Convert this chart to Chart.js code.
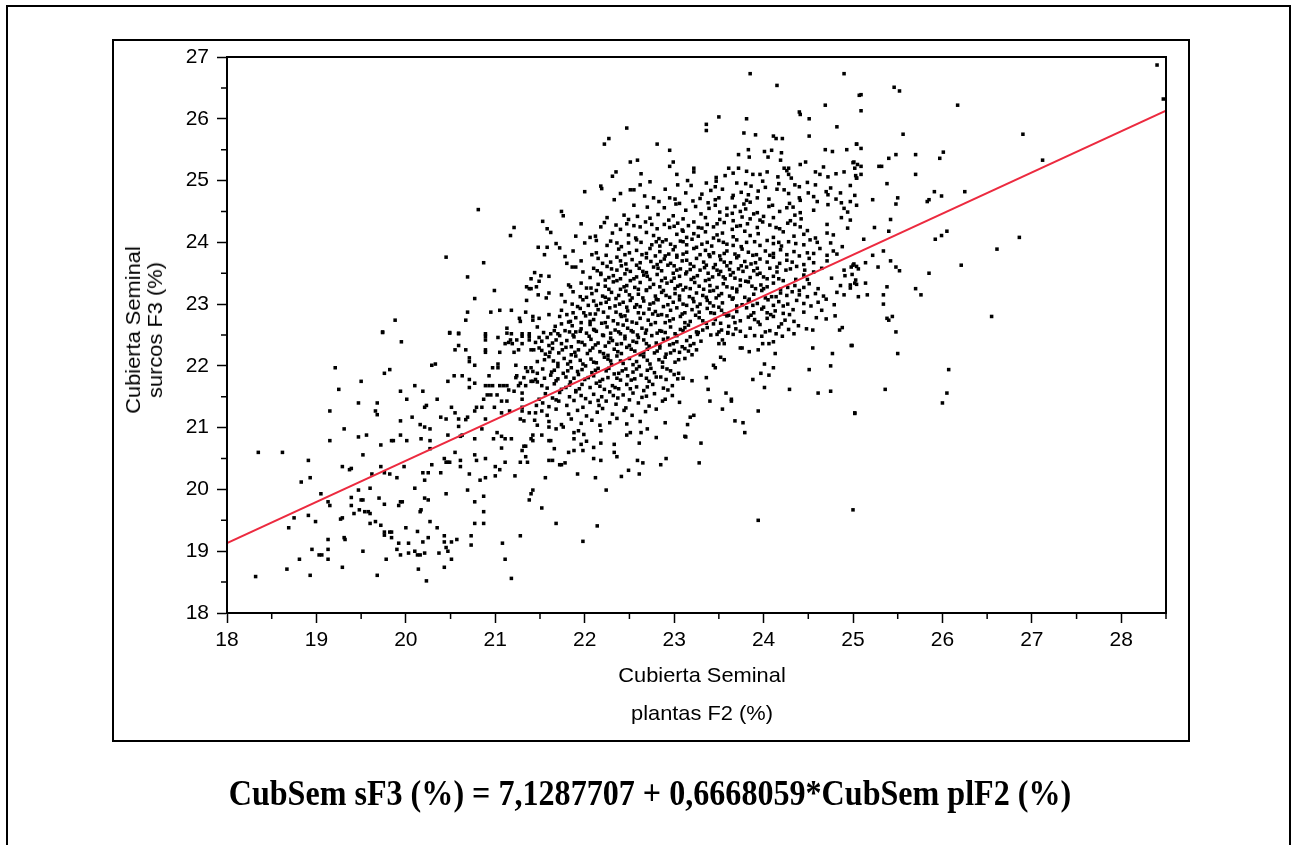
<!DOCTYPE html>
<html>
<head>
<meta charset="utf-8">
<script src="https://cdn.jsdelivr.net/npm/chart.js@4/dist/chart.umd.min.js"></script>
<style>
  body { margin: 0; background: #fff; }
  #wrap { position: relative; width: 1293px; height: 845px; overflow: hidden; background: #fff; }
  #grafico { position: absolute; left: 0; top: 0; }
  .caja { position: absolute; border: 2px solid #000; box-sizing: border-box; pointer-events: none; }
  .txt { position: absolute; font-family: Arial, "Liberation Sans", sans-serif; color: #000; white-space: nowrap; }
</style>
</head>
<body>
<div id="wrap">
  <div class="caja" style="left:6px; top:5px; width:1285px; height:860px;"></div>
  <div class="caja" style="left:112px; top:39px; width:1078px; height:703px;"></div>
  <canvas id="grafico" width="1293" height="845"></canvas>
  <div class="txt" style="left:144px; top:330px; font-size:21px; line-height:22px; text-align:center; transform: translate(-50%,-50%) rotate(-90deg) scaleX(1.04);">Cubierta Seminal<br>surcos F3 (%)</div>
  <div class="txt" style="left:702px; top:663px; font-size:21px; transform: translateX(-50%) scaleX(1.04);">Cubierta Seminal</div>
  <div class="txt" style="left:702px; top:701px; font-size:21px; transform: translateX(-50%) scaleX(1.04);">plantas F2 (%)</div>
  <div class="txt" style="left:650px; top:776px; font-family:'Liberation Serif','Times New Roman',serif; font-weight:bold; font-size:35px; line-height:35px; transform: translateX(-50%) scaleX(0.917);">CubSem sF3 (%) = 7,1287707 + 0,6668059*CubSem plF2 (%)</div>
</div>
<script>
// Cubierta Seminal: plantas F2 (x) vs surcos F3 (y)
const puntosIzq = [
  [18.35,20.6],[18.62,20.6],[18.32,18.59],[18.67,18.71],[18.93,18.61],[18.81,18.87],[18.95,19.03],[19.03,18.94],[19.06,18.94],[19.13,18.87],
  [19.13,19.03],[19.13,19.19],[18.69,19.38],[18.75,19.54],[18.91,19.58],[18.99,19.48],[18.83,20.12],[18.93,20.19],[18.91,20.47],[19.05,19.93],
  [19.13,19.8],[19.15,19.74],[19.29,18.74],[19.31,19.22],[19.32,19.19],[19.27,19.52],[19.29,19.54],[19.21,21.97],[19.25,21.62],[19.15,21.27],
  [19.15,20.79],[19.31,20.98],[19.29,20.37],[19.37,20.32],[19.39,20.34],[19.47,21.4],[19.47,20.85],[19.56,20.88],[19.5,21.75],[19.52,20.56],
  [19.39,19.87],[19.39,19.74],[19.42,19.61],[19.47,19.99],[19.48,19.67],[19.5,19.83],[19.52,19.83],[19.54,19.64],[19.58,19.64],[19.6,19.61],
  [19.6,20.02],[19.62,20.25],[19.6,19.45],[19.66,19.48],[19.52,19.0],[19.68,18.61],[19.68,21.4],[19.66,21.27],[19.68,21.21],[19.72,20.72],
  [19.72,20.37],[19.76,21.88],[19.82,21.94],[19.74,22.54],[19.76,20.27],[19.82,20.25],[19.7,19.86],[19.76,19.76],[19.72,19.42],[19.76,19.31],
  [19.76,19.26],[19.82,19.31],[19.84,19.31],[19.84,19.22],[19.78,18.87],[19.84,20.79],[19.86,20.79],[19.9,20.19],[19.92,19.74],[19.94,19.8],
  [19.96,19.8],[19.92,19.13],[19.9,19.03],[19.94,18.94],[19.94,21.11],[19.94,20.88],[19.94,21.59],[19.95,22.39],[20.01,21.46],[20.01,20.79],
  [19.98,20.37],[20.0,19.38],[20.03,19.13],[20.03,18.97],[20.07,21.17],[20.1,21.68],[20.1,20.02],[20.1,19.0],[20.13,18.94],[20.16,18.94],
  [20.13,19.32],[20.14,18.71],[20.16,21.05],[20.21,21.01],[20.27,20.98],[20.17,20.82],[20.19,21.59],[20.21,21.33],[20.23,21.36],[20.19,20.27],
  [20.25,20.27],[20.21,20.15],[20.16,19.64],[20.17,19.67],[20.21,19.86],[20.25,19.83],[20.19,19.15],[20.25,19.22],[20.21,18.97],[20.23,18.52],
  [20.27,20.79],[20.27,20.66],[20.29,20.4],[20.27,19.48],[20.35,21.46],[20.35,19.38],[20.39,20.27],[20.39,21.17],[20.45,21.14],[20.43,20.5],
  [20.45,20.44],[20.47,20.44],[20.49,20.44],[20.47,21.75],[20.45,19.93],[20.43,19.25],[20.43,19.15],[20.45,19.06],[20.47,19.0],[20.37,18.97],
  [20.43,18.74],[20.49,22.54],[20.59,22.52],[20.51,21.33],[20.47,20.88],[20.55,21.24],[20.55,20.6],[20.59,21.02],[20.59,21.14],[20.61,20.47],
  [20.61,20.37],[20.51,19.15],[20.57,19.19],[20.51,18.87],[20.61,20.86],[20.63,20.88],[20.67,21.13],[20.69,21.17],[20.71,20.25],[20.69,19.99],
  [20.73,19.25],[20.73,19.1],[20.77,20.56],[20.79,20.47],[20.77,19.8],[20.77,19.45],[20.87,19.89],[20.87,19.64],[20.87,19.45],[20.89,20.19],
  [20.83,20.15],[20.89,20.5],[20.77,20.82],[20.77,21.27],[20.79,21.33],[20.85,20.98],[20.89,21.14],[21.0,20.37],[21.0,20.22],[21.05,20.32],
  [21.11,20.44],[21.02,20.92],[20.98,20.82],[21.07,20.86],[21.11,20.82],[21.18,20.82],[21.07,20.67],[21.22,20.22],[21.28,20.44],[21.36,20.44],
  [21.3,20.63],[21.32,20.7],[21.34,20.7],[21.34,20.53],[21.38,19.83],[21.4,19.93],[21.42,19.99],[21.28,19.25],[21.08,19.13],[21.11,18.87],
  [21.18,18.56],[21.28,21.14],[21.32,21.11],[21.4,20.82],[21.42,20.88],[21.42,20.79],[21.56,20.19],
  [20.89,22.48],[20.89,22.42],[21.03,22.46],[21.13,22.53],[21.3,22.48],[21.38,22.48],[21.38,22.42],[21.45,22.38],[21.49,22.46],
  [21.11,22.36],[21.15,22.38],[21.17,22.42],[21.19,22.36],[21.24,22.42],[21.3,22.36],[21.43,22.26],[21.49,22.29],
  [20.55,22.26],[20.59,22.33],[20.67,22.26],[20.89,22.26],[20.89,22.22],[21.05,22.22],[21.21,22.22],[21.26,22.26],[21.4,22.26],
  [20.71,22.13],[20.71,22.07],[20.77,22.01],[21.03,22.03],[21.03,21.97],[20.97,21.97],[21.23,22.01],[21.34,21.97],[21.36,21.91],[21.4,21.97],
  [21.42,21.91],[21.47,22.07],[21.47,21.74],[21.47,21.88],[20.29,22.01],[20.33,22.03],[20.54,21.84],[20.63,21.84],[20.71,21.78],
  [20.77,21.72],[20.93,21.84],[21.23,21.81],[21.24,21.84],[21.32,21.81],[21.4,21.75],[21.45,21.78],[20.71,21.65],[20.89,21.68],[20.93,21.68],
  [20.97,21.68],[21.05,21.68],[21.09,21.68],[21.13,21.68],[21.15,21.61],[21.21,21.59],[21.26,21.68],[21.28,21.72],[21.3,21.56],[21.34,21.68],
  [21.42,21.75],[20.91,21.53],[20.95,21.53],[21.02,21.53],[20.87,21.46],[21.07,21.43],[21.13,21.43],[21.3,21.46],
  [21.49,21.46],[20.85,21.33],[20.99,21.33],[21.07,21.24],[21.16,21.27],[21.3,21.33],[21.3,21.27],[21.38,21.24],[21.45,21.24],
  [21.46,21.36],[21.44,21.12],[21.47,21.04],
  [20.81,24.53],[21.21,24.24],[21.17,24.11],[21.62,24.16],[21.48,23.92],[20.45,23.76],
  [20.87,23.67],[20.69,23.44],[21.44,23.51],[21.4,23.41],[21.49,23.37],[21.35,23.28],[21.38,23.25],[21.4,23.25],[21.46,23.28],
  [21.48,23.15],[21.35,23.06],[20.99,23.22],[20.77,23.09],[20.69,22.87],[20.67,22.74],[20.95,22.87],[21.05,22.9],[21.18,22.9],
  [21.34,22.87],[21.27,22.77],[21.28,22.72],[21.42,22.8],[21.42,22.74],[21.47,22.63],[21.13,22.61],[19.88,22.74],
  [19.74,22.55],[20.49,22.53],[20.59,22.53],[20.89,22.52],[21.18,22.52],[21.3,22.52],[21.38,22.52]
];

const puntosNucleo = [
  [23.85,26.73],[24.9,26.73],[24.15,26.54],[25.07,26.38],[24.69,26.22],[24.4,26.11],[24.41,26.07],[24.51,26.0],[23.5,26.03],[23.81,26.0],
  [23.36,25.91],[23.36,25.81],[22.47,25.85],[24.82,25.87],[23.78,25.77],[23.91,25.74],
  [22.22,25.59],[22.27,25.68],[22.81,25.59],[24.11,25.72],[24.14,25.68],[24.21,25.68],[24.51,25.72],[25.04,25.59],
  [22.95,25.49],[23.83,25.5],[24.01,25.47],[24.09,25.49],[24.2,25.45],[24.69,25.5],[24.77,25.47],[24.93,25.5],[23.72,25.42],[23.84,25.38],[24.05,25.38],
  [22.51,25.3],[22.59,25.33],[22.99,25.3],[24.19,25.33],[24.47,25.3],[24.41,25.26],[24.67,25.22],[25.01,25.3],[22.95,25.23],[23.22,25.2],
  [23.61,25.2],[23.72,25.2],[24.23,25.2],[24.28,25.2],[25.05,25.26],
  [22.31,25.07],[22.35,25.14],[22.63,25.11],[23.03,25.1],[23.22,25.14],[23.57,25.08],[23.47,25.05],[23.66,25.12],[23.81,25.15],[23.88,25.1],
  [23.96,25.1],[24.04,25.14],[24.16,25.06],[24.26,25.16],[24.28,25.1],[24.31,25.04],[24.63,25.1],[24.58,25.14],[24.72,25.06],[24.81,25.11],
  [24.9,25.14],[25.03,25.08],[25.04,25.04],[23.47,24.99],[23.15,25.0],
  [22.73,24.98],[23.04,24.93],[23.36,24.96],[23.46,24.9],[22.18,24.91],[22.19,24.87],[23.8,24.95],[23.86,24.91],[23.99,24.99],[24.17,24.95],
  [24.35,24.93],[24.4,24.9],[24.49,24.97],[24.58,24.93],[24.75,24.88],[24.97,24.92],
  [22.0,24.82],[22.51,24.85],[22.55,24.85],[22.67,24.75],[22.77,24.72],[23.13,24.8],[23.31,24.78],[23.41,24.84],[23.66,24.76],[23.75,24.81],
  [23.83,24.77],[23.94,24.83],[24.15,24.86],[24.28,24.79],[24.5,24.8],[24.56,24.74],[24.7,24.82],[24.72,24.77],[24.86,24.8],[25.02,24.76],
  [22.33,24.69],[22.4,24.79],[22.83,24.66],[23.01,24.7],[23.06,24.63],[23.21,24.67],[23.29,24.71],[23.38,24.64],[23.46,24.69],[23.65,24.72],
  [23.78,24.62],[23.81,24.68],[23.85,24.65],[24.06,24.7],[24.29,24.63],[24.41,24.68],[24.6,24.66],[24.72,24.61],[24.81,24.7],[24.87,24.64],
  [21.74,24.5],[22.89,24.56],[23.13,24.52],[23.46,24.6],[23.51,24.49],[23.59,24.55],[23.65,24.47],[23.68,24.58],[23.74,24.5],[23.8,24.54],
  [23.93,24.48],[24.06,24.58],[24.18,24.5],[24.26,24.56],[24.41,24.48],[24.56,24.52],[24.9,24.55],[24.94,24.49],
  [21.76,24.43],[21.53,24.34],[22.25,24.4],[22.44,24.44],[22.49,24.37],[22.59,24.42],[22.73,24.39],[22.82,24.45],[22.94,24.36],[22.99,24.43],
  [23.1,24.38],[23.3,24.46],[23.35,24.4],[23.51,24.37],[23.59,24.44],[23.66,24.35],[23.76,24.41],[23.85,24.38],[23.89,24.46],[23.96,24.36],
  [24.0,24.42],[24.11,24.4],[24.3,24.35],[24.35,24.44],[24.42,24.38],[24.87,24.4],[24.97,24.36],
  [21.58,24.22],[21.96,24.3],[22.18,24.25],[22.22,24.32],[22.35,24.28],[22.4,24.21],[22.47,24.3],[22.62,24.25],[22.68,24.33],[22.81,24.22],
  [22.89,24.29],[22.95,24.24],[23.04,24.31],[23.09,24.2],[23.16,24.27],[23.22,24.33],[23.31,24.23],[23.37,24.29],[23.44,24.25],[23.56,24.32],
  [23.65,24.21],[23.74,24.27],[23.82,24.3],[23.93,24.24],[24.07,24.28],[24.18,24.22],[24.27,24.31],[24.41,24.25],[24.71,24.29],[24.94,24.23],
  [21.9,24.1],[22.06,24.08],[22.12,24.1],[22.31,24.15],[22.49,24.12],[22.57,24.07],[22.69,24.16],[22.77,24.11],[22.83,24.06],[23.03,24.13],
  [23.1,24.18],[23.14,24.08],[23.22,24.14],[23.27,24.1],[23.35,24.17],[23.44,24.07],[23.48,24.12],[23.54,24.15],[23.66,24.09],[23.79,24.18],
  [23.85,24.11],[23.94,24.14],[24.11,24.08],[24.22,24.17],[24.34,24.1],[24.45,24.13],[24.49,24.19],[24.58,24.07],[24.71,24.15],[24.78,24.12],
  [21.58,23.92],[21.68,23.98],[21.72,23.91],[22.0,23.99],[22.13,24.03],[22.25,23.95],[22.29,24.02],[22.41,23.93],[22.49,23.99],[22.58,24.04],
  [22.75,23.96],[22.8,24.01],[22.84,23.94],[22.91,24.04],[22.96,23.97],[23.01,23.93],[23.07,24.02],[23.14,23.96],[23.2,24.05],[23.25,23.92],
  [23.37,24.0],[23.42,23.94],[23.5,24.03],[23.59,23.97],[23.7,24.04],[23.75,23.93],[23.81,24.0],[23.96,23.95],[24.04,24.03],[24.11,23.98],
  [24.2,23.94],[24.28,24.01],[24.45,23.96],[24.52,24.04],[24.75,23.99],[24.88,23.93],
  [21.55,23.8],[21.78,23.77],[21.87,23.86],[22.13,23.83],[22.38,23.89],[22.45,23.8],[22.58,23.87],[22.69,23.82],[22.73,23.9],[22.79,23.78],
  [22.84,23.85],[22.94,23.81],[22.99,23.88],[23.03,23.79],[23.14,23.84],[23.22,23.9],[23.29,23.8],[23.35,23.87],[23.44,23.83],[23.51,23.78],
  [23.59,23.86],[23.68,23.81],[23.76,23.89],[23.83,23.84],[23.88,23.79],[24.02,23.86],[24.11,23.82],[24.19,23.88],[24.26,23.8],[24.34,23.85],
  [24.49,23.83],[24.63,23.9],[24.71,23.79],[24.78,23.86],[24.82,23.81],
  [21.8,23.66],[21.96,23.7],[22.15,23.74],[22.29,23.68],[22.36,23.76],[22.46,23.65],[22.53,23.72],[22.62,23.67],[22.69,23.75],[22.74,23.69],
  [22.81,23.64],[22.89,23.73],[22.96,23.66],[23.03,23.76],[23.09,23.7],[23.18,23.65],[23.25,23.74],[23.33,23.68],[23.4,23.77],[23.46,23.64],
  [23.52,23.72],[23.63,23.67],[23.7,23.75],[23.79,23.69],[23.86,23.65],[23.96,23.73],[24.04,23.68],[24.11,23.76],[24.18,23.66],[24.26,23.71],
  [24.51,23.74],[24.56,23.67],[24.71,23.7],[25.01,23.65],
  [21.86,23.6],[21.9,23.6],[21.98,23.52],[22.1,23.58],[22.18,23.5],[22.25,23.61],[22.36,23.55],[22.41,23.62],[22.51,23.53],[22.61,23.58],
  [22.69,23.51],[22.77,23.6],[22.86,23.54],[22.93,23.63],[22.99,23.5],[23.07,23.57],[23.14,23.52],[23.22,23.61],[23.29,23.55],[23.38,23.5],
  [23.44,23.59],[23.52,23.53],[23.59,23.62],[23.66,23.51],[23.72,23.57],[23.81,23.6],[23.89,23.54],[23.96,23.5],[24.07,23.58],[24.25,23.55],
  [24.37,23.61],[24.56,23.52],[24.65,23.58],[24.9,23.55],[24.98,23.6],
  [21.51,23.46],[21.6,23.45],[22.06,23.43],[22.18,23.48],[22.23,23.39],[22.32,23.46],[22.4,23.41],[22.45,23.49],[22.51,23.38],[22.58,23.44],
  [22.66,23.47],[22.73,23.4],[22.81,23.48],[22.9,23.42],[22.97,23.37],[23.06,23.45],[23.13,23.49],[23.19,23.4],[23.26,23.46],[23.35,23.38],
  [23.43,23.44],[23.5,23.48],[23.57,23.41],[23.63,23.47],[23.74,23.39],[23.85,23.43],[23.93,23.48],[24.04,23.41],[24.11,23.45],[24.22,23.38],
  [24.45,23.47],[24.49,23.4],[24.76,23.42],[24.91,23.46],[25.03,23.39],
  [21.82,23.31],[21.84,23.28],[21.96,23.34],[22.02,23.26],[22.15,23.32],[22.23,23.29],[22.32,23.36],[22.4,23.24],[22.47,23.3],[22.56,23.27],
  [22.62,23.35],[22.69,23.23],[22.77,23.32],[22.84,23.28],[22.92,23.34],[23.01,23.25],[23.07,23.31],[23.13,23.27],[23.23,23.35],[23.33,23.24],
  [23.4,23.3],[23.48,23.27],[23.55,23.33],[23.65,23.26],[23.74,23.3],[23.83,23.36],[23.91,23.25],[23.97,23.31],[24.04,23.28],[24.11,23.34],
  [24.19,23.24],[24.35,23.3],[24.45,23.27],[24.51,23.33],[24.61,23.25],[24.86,23.3],[24.97,23.26],[25.04,23.32],
  [21.57,23.1],[21.6,23.18],[21.74,23.15],[21.87,23.2],[21.95,23.12],[22.08,23.17],[22.13,23.22],[22.23,23.11],[22.3,23.19],[22.38,23.14],
  [22.46,23.21],[22.53,23.1],[22.6,23.16],[22.69,23.22],[22.79,23.13],[22.86,23.19],[22.95,23.11],[23.01,23.17],[23.1,23.23],[23.17,23.12],
  [23.25,23.18],[23.32,23.14],[23.4,23.21],[23.47,23.1],[23.53,23.17],[23.62,23.13],[23.7,23.2],[23.79,23.11],[23.89,23.16],[23.98,23.22],
  [24.09,23.12],[24.19,23.18],[24.26,23.14],[24.32,23.2],[24.49,23.12],[24.58,23.17],[24.67,23.13],[24.82,23.19],[24.9,23.15],
  [21.78,23.04],[21.86,23.0],[21.98,23.07],[22.04,22.98],[22.1,23.05],[22.18,23.01],[22.27,23.08],[22.34,22.97],[22.43,23.03],[22.51,23.06],
  [22.58,22.99],[22.66,23.05],[22.73,23.0],[22.8,23.08],[22.88,22.96],[22.99,23.03],[23.06,23.07],[23.14,22.98],[23.22,23.04],[23.29,23.0],
  [23.37,23.06],[23.44,22.97],[23.54,23.02],[23.65,23.08],[23.76,22.99],[23.83,23.05],[23.93,23.01],[24.05,23.07],[24.11,22.98],[24.17,23.04],
  [24.27,23.0],[24.37,23.06],[24.53,22.97],[24.61,23.03],[24.7,23.08],[24.79,22.99],
  [21.74,22.9],[21.87,22.86],[21.95,22.93],[22.06,22.84],[22.15,22.91],[22.21,22.87],[22.28,22.94],[22.4,22.83],[22.48,22.89],[22.56,22.95],
  [22.66,22.85],[22.72,22.92],[22.79,22.88],[22.86,22.83],[22.96,22.9],[23.03,22.94],[23.09,22.84],[23.2,22.91],[23.28,22.87],[23.37,22.93],
  [23.45,22.85],[23.53,22.9],[23.61,22.82],[23.7,22.88],[23.81,22.94],[23.89,22.86],[23.98,22.92],[24.08,22.83],[24.13,22.89],[24.22,22.85],
  [24.33,22.91],[24.45,22.87],[24.65,22.9],
  [21.49,22.77],[21.6,22.83],[21.72,22.8],[21.84,22.72],[21.9,22.78],[21.96,22.7],[22.01,22.81],[22.1,22.75],[22.19,22.69],[22.26,22.79],
  [22.32,22.73],[22.41,22.8],[22.53,22.71],[22.62,22.77],[22.71,22.74],[22.82,22.82],[22.9,22.7],[22.99,22.76],[23.07,22.8],[23.18,22.72],
  [23.28,22.78],[23.36,22.69],[23.46,22.75],[23.59,22.81],[23.74,22.73],[23.83,22.79],[23.94,22.71],[24.04,22.77],[24.11,22.8],[24.24,22.74],
  [24.34,22.72],[24.59,22.78],[24.7,22.76],[24.8,22.81],
  [21.67,22.64],[21.74,22.68],[21.78,22.57],[21.86,22.65],[21.96,22.6],[22.06,22.67],[22.13,22.56],[22.25,22.63],[22.34,22.58],[22.43,22.66],
  [22.54,22.55],[22.64,22.61],[22.74,22.67],[22.84,22.57],[22.96,22.63],[23.07,22.59],[23.16,22.66],[23.25,22.55],[23.37,22.62],[23.44,22.68],
  [23.53,22.58],[23.61,22.64],[23.74,22.56],[23.85,22.61],[23.96,22.67],[24.07,22.57],[24.17,22.63],[24.28,22.59],[24.39,22.65],[24.48,22.6],
  [24.88,22.62],
  [21.7,22.52],[21.87,22.5],[22.02,22.53],[22.21,22.49],[22.4,22.52],[22.59,22.5],[22.81,22.53],[23.03,22.49],[23.26,22.51],[23.41,22.5],
  [23.6,22.53],[23.9,22.49],[24.14,22.52]
];

const puntosCentroBajo = [
  [21.54,22.54],[21.58,22.46],[21.66,22.57],[21.72,22.49],[21.83,22.55],[21.88,22.47],[21.95,22.56],[22.05,22.48],[22.11,22.58],[22.2,22.5],
  [22.29,22.45],[22.38,22.55],[22.45,22.48],[22.52,22.57],[22.6,22.46],[22.68,22.53],[22.75,22.49],[22.86,22.56],[22.93,22.45],[23.01,22.52],
  [23.1,22.57],[23.18,22.47],[23.27,22.54],[23.48,22.51],[23.6,22.54],[23.66,22.51],[23.8,22.48],[23.98,22.48],[24.21,22.48],[24.55,22.58],[24.85,22.58],
  [21.52,22.4],[21.6,22.33],[21.68,22.42],[21.74,22.36],[21.85,22.31],[21.93,22.39],[22.0,22.34],[22.07,22.43],[22.15,22.37],[22.23,22.32],
  [22.31,22.41],[22.36,22.35],[22.45,22.44],[22.5,22.33],[22.58,22.38],[22.66,22.42],[22.72,22.32],[22.8,22.37],[22.88,22.43],[22.95,22.34],
  [23.03,22.39],[23.09,22.31],[23.14,22.41],[23.22,22.36],[23.5,22.36],[23.54,22.42],[23.56,22.36],[23.74,22.29],[23.76,22.29],[23.99,22.36],
  [24.06,22.36],[24.11,22.39],[24.98,22.33],
  [21.52,22.25],[21.56,22.19],[21.64,22.28],[21.71,22.21],[21.79,22.3],[21.85,22.18],[21.93,22.26],[22.03,22.2],[22.09,22.29],[22.17,22.23],
  [22.26,22.17],[22.33,22.27],[22.41,22.2],[22.47,22.3],[22.56,22.24],[22.62,22.18],[22.7,22.27],[22.78,22.21],[22.84,22.29],[22.91,22.19],
  [23.0,22.25],[23.06,22.22],[23.12,22.28],[23.2,22.18],[23.25,22.26],[23.84,22.23],[23.94,22.26],[24.13,22.2],[24.55,22.29],[24.77,22.2],
  [21.55,22.1],[21.6,22.15],[21.7,22.04],[21.77,22.12],[21.84,22.07],[21.9,22.16],[21.98,22.03],[22.07,22.11],[22.13,22.05],[22.22,22.14],
  [22.29,22.08],[22.36,22.16],[22.43,22.04],[22.5,22.12],[22.58,22.07],[22.66,22.15],[22.73,22.03],[22.83,22.1],[22.9,22.14],[23.01,22.06],
  [23.12,22.12],[23.44,22.01],[23.52,22.14],[23.56,22.1],[24.01,22.03],[24.11,21.97],[24.51,21.94],[24.75,22.0],
  [21.53,21.95],[21.63,21.9],[21.7,21.99],[21.76,21.88],[21.85,21.97],[21.92,21.91],[22.01,22.0],[22.08,21.89],[22.15,21.96],[22.24,21.92],
  [22.3,22.02],[22.38,21.88],[22.46,21.95],[22.54,21.9],[22.61,21.99],[22.7,21.93],[22.78,21.89],[22.87,21.98],[22.96,21.92],[23.05,21.88],
  [23.46,21.97],[23.97,21.88],[24.06,21.85],
  [21.55,21.8],[21.62,21.85],[21.68,21.76],[21.79,21.82],[21.84,21.74],[21.93,21.86],[22.0,21.78],[22.1,21.84],[22.17,21.75],[22.26,21.81],
  [22.33,21.87],[22.4,21.77],[22.48,21.84],[22.56,21.79],[22.63,21.85],[22.72,21.75],[22.8,21.82],[22.91,21.78],[23.0,21.86],[23.1,21.8],
  [23.2,21.76],[23.36,21.81],[23.88,21.78],
  [21.52,21.68],[21.58,21.64],[21.66,21.71],[21.74,21.62],[21.83,21.69],[21.9,21.6],[21.97,21.7],[22.06,21.65],[22.13,21.72],[22.22,21.62],
  [22.31,21.68],[22.38,21.63],[22.47,21.7],[22.58,21.66],[22.66,21.6],[22.76,21.7],[22.88,21.64],[22.98,21.68],[23.38,21.62],[24.01,21.65],
  [21.56,21.55],[21.64,21.48],[21.72,21.57],[21.83,21.5],[21.9,21.58],[22.01,21.47],[22.1,21.54],[22.19,21.5],[22.28,21.58],[22.37,21.48],
  [22.43,21.53],[22.54,21.56],[22.64,21.49],[22.78,21.55],[22.98,21.52],[23.58,21.56],[24.29,21.62],[24.61,21.56],[24.75,21.59],
  [21.53,21.4],[21.6,21.34],[21.71,21.43],[21.8,21.36],[21.88,21.44],[21.98,21.33],[22.06,21.41],[22.16,21.36],[22.24,21.43],[22.35,21.38],
  [22.46,21.32],[22.6,21.4],[22.72,21.35],[22.87,21.43],[23.06,21.41],[23.4,21.43],[23.64,21.43],[23.64,21.46],
  [21.52,21.27],[21.58,21.2],[21.68,21.3],[21.82,21.22],[21.92,21.28],[22.02,21.19],[22.14,21.25],[22.2,21.31],[22.31,21.22],[22.44,21.28],
  [22.53,21.2],[22.68,21.26],[22.8,21.3],[23.18,21.17],[23.22,21.2],[23.54,21.3],[23.94,21.27],[25.02,21.24],
  [21.6,21.1],[21.74,21.05],[21.85,21.14],[21.96,21.07],[22.08,21.12],[22.17,21.04],[22.28,21.08],[22.36,21.15],[22.47,21.06],[22.62,21.1],
  [22.9,21.08],[23.15,21.05],[23.68,21.11],[23.77,21.08],
  [21.6,21.01],[21.68,20.98],[21.76,21.01],[21.88,20.92],[21.93,20.95],[21.99,20.89],[22.18,20.95],[22.47,20.88],[22.51,20.92],[22.63,20.92],
  [22.7,20.98],[23.13,20.85],[23.79,20.92],
  [21.52,20.88],[21.6,20.79],[21.62,20.79],[21.88,20.82],[21.96,20.73],[22.02,20.78],[22.18,20.75],[22.33,20.73],[22.61,20.75],[22.8,20.84],[23.3,20.75],[23.12,20.86],
  [21.66,20.66],[21.82,20.6],[21.88,20.63],[21.98,20.63],[22.33,20.6],[22.36,20.53],[22.1,20.68],
  [21.6,20.47],[21.64,20.47],[21.72,20.4],[21.74,20.4],[21.78,20.43],[22.1,20.5],[22.18,20.47],[22.59,20.47],[22.65,20.43],[22.85,20.4],
  [22.91,20.5],[23.28,20.43],
  [21.92,20.25],[22.12,20.19],[22.41,20.21],[22.49,20.31],[22.61,20.25],[22.24,19.99],[21.52,19.7],[21.68,19.45],[21.98,19.16],[22.14,19.41],
  [23.94,19.5],[25.0,19.67]
];

// puntos del nucleo denso que quedan entre las filas anteriores
const puntosRelleno = [
  [22.62,24.93],[22.9,24.86],[23.19,24.92],[23.54,24.86],[23.7,24.96],[24.02,24.89],[24.23,24.85],[24.4,24.72],[23.5,24.72],[23.93,24.72],[22.95,24.72],
  [22.55,24.6],[22.7,24.57],[23.02,24.62],[23.24,24.58],[23.39,24.55],[24.1,24.6],[24.33,24.57],
  [22.55,24.27],[22.75,24.29],[23.0,24.26],[23.27,24.24],[23.48,24.3],[23.7,24.26],[23.99,24.33],[24.14,24.24],[24.35,24.29],
  [22.36,23.99],[22.63,24.0],[22.87,24.01],[23.1,24.01],[23.31,23.97],[23.55,24.0],[23.66,23.95],[23.9,24.01],[24.17,24.0],[24.36,23.98],[24.6,24.0],
  [22.08,23.8],[22.24,23.79],[22.5,23.83],[22.64,23.8],[22.9,23.78],[23.1,23.81],[23.39,23.8],[23.56,23.82],[23.72,23.78],[23.92,23.8],[24.07,23.79],[24.4,23.78],[24.56,23.82],
  [22.2,23.66],[22.4,23.7],[22.58,23.63],[22.85,23.69],[23.0,23.62],[23.14,23.71],[23.36,23.63],[23.56,23.68],[23.75,23.62],[23.91,23.67],[24.15,23.6],[24.32,23.68],[24.45,23.64],
  [22.14,23.54],[22.3,23.57],[22.47,23.56],[22.65,23.53],[22.82,23.58],[23.03,23.55],[23.18,23.56],[23.34,23.59],[23.48,23.55],[23.62,23.56],[23.77,23.53],[23.93,23.58],[24.15,23.52],[24.3,23.57],[24.46,23.55],
  [22.27,23.43],[22.36,23.38],[22.55,23.41],[22.7,23.45],[22.86,23.38],[23.0,23.42],[23.22,23.43],[23.39,23.4],[23.55,23.44],[23.68,23.42],[23.8,23.37],[24.0,23.44],[24.17,23.41],[24.36,23.4],
  [22.07,23.26],[22.27,23.24],[22.44,23.28],[22.6,23.24],[22.73,23.27],[22.88,23.22],[23.04,23.29],[23.18,23.25],[23.28,23.29],[23.44,23.22],[23.59,23.28],[23.7,23.24],[23.87,23.29],[24.0,23.25],[24.27,23.27],[24.4,23.22],
  [22.02,23.11],[22.2,23.13],[22.35,23.09],[22.5,23.15],[22.65,23.1],[22.82,23.07],[22.91,23.14],[23.06,23.13],[23.21,23.09],[23.36,23.11],[23.5,23.14],[23.66,23.1],[23.84,23.08],[24.02,23.1],[24.14,23.12],[24.4,23.15],
  [21.92,22.96],[22.13,22.98],[22.24,23.03],[22.39,23.0],[22.47,22.95],[22.62,22.96],[22.77,23.02],[22.93,22.99],[23.1,23.0],[23.26,22.96],[23.4,23.02],[23.5,22.95],[23.7,22.97],[23.88,22.98],[24.0,22.95],[24.22,22.97],[24.45,23.01],
  [21.8,22.83],[21.99,22.86],[22.12,22.84],[22.35,22.87],[22.45,22.81],[22.6,22.86],[22.76,22.84],[22.92,22.81],[23.12,22.86],[23.24,22.82],[23.41,22.86],[23.56,22.84],[23.66,22.79],[23.86,22.82],[24.04,22.86],[24.29,22.83],
  [21.82,22.71],[22.06,22.72],[22.23,22.7],[22.37,22.68],[22.47,22.74],[22.58,22.69],[22.79,22.7],[22.95,22.73],[23.12,22.7],[23.32,22.73],[23.52,22.69],[23.68,22.7],[23.9,22.75],[24.2,22.68],
  [21.62,22.52],[21.9,22.55],[22.1,22.59],[22.29,22.53],[22.48,22.61],[22.69,22.58],[22.9,22.54],[23.12,22.62],[23.32,22.58],[23.5,22.55],[23.69,22.6],[24.02,22.55],[24.34,22.52],
  [21.64,22.37],[21.8,22.41],[21.97,22.38],[22.12,22.34],[22.27,22.38],[22.41,22.36],[22.54,22.4],[22.69,22.36],[22.84,22.33],[22.99,22.36],[23.18,22.33],[23.3,22.4],
  [21.61,22.22],[21.75,22.26],[21.89,22.22],[22.06,22.25],[22.21,22.2],[22.37,22.23],[22.52,22.27],[22.66,22.21],[22.81,22.24],[22.96,22.21],[23.16,22.24],
  [21.65,22.08],[21.81,22.03],[21.95,22.09],[22.1,22.06],[22.26,22.11],[22.4,22.08],[22.54,22.02],[22.7,22.09],[22.87,22.06],[23.05,22.1],
  [21.66,21.93],[21.81,21.92],[21.97,21.94],[22.12,21.93],[22.27,21.96],[22.42,21.92],[22.58,21.95],[22.74,21.96],[22.92,21.95],
  [21.7,21.79],[21.88,21.8],[22.04,21.81],[22.2,21.78],[22.36,21.8],[22.52,21.77],[22.69,21.8],[22.85,21.82],[23.04,21.79],
  [21.79,21.65],[21.94,21.63],[22.17,21.67],[22.34,21.65],[22.51,21.63],[22.7,21.66],[22.93,21.61],
  [21.68,21.45],[21.96,21.52],[22.15,21.44],[22.32,21.52],[22.5,21.45],[22.69,21.51],[22.9,21.46]
];

const puntosDer = [
  [28.4,26.87],[28.47,26.32],[25.46,26.51],[25.52,26.45],[25.09,26.39],[25.09,26.13],[26.17,26.22],[26.9,25.75],[27.12,25.33],[25.56,25.75],
  [25.04,25.59],[25.09,25.52],[25.48,25.42],[25.7,25.42],[25.4,25.36],[25.97,25.36],[26.01,25.46],[25.0,25.29],[25.02,25.2],[25.09,25.23],
  [25.09,25.1],[25.04,25.04],[25.29,25.23],[25.32,25.23],[25.7,25.1],[25.38,24.95],[24.97,24.66],[25.04,24.6],[25.22,24.69],[25.48,24.62],
  [25.5,24.72],[25.83,24.66],[25.85,24.69],[25.91,24.82],[25.99,24.75],[26.25,24.82],[25.42,24.37],[25.24,24.24],[25.4,24.18],[25.12,24.05],
  [25.92,24.05],[25.99,24.11],[26.05,24.18],[26.86,24.08],[26.61,23.89],[25.22,23.79],[25.34,23.86],[25.0,23.63],[25.04,23.61],[25.06,23.57],
  [25.14,23.67],[25.28,23.6],[25.42,23.7],[25.48,23.6],[25.52,23.54],[26.21,23.63],[25.85,23.5],[24.99,23.48],[25.02,23.34],[24.97,23.31],
  [25.14,23.34],[25.38,23.28],[25.7,23.25],[25.76,23.15],[25.06,23.12],[25.16,23.15],[25.34,23.15],[25.34,23.0],[25.38,22.77],[25.4,22.74],
  [25.44,22.8],[25.48,22.55],[26.55,22.8],[24.99,22.33],[25.5,22.2],[26.07,21.94],[25.36,21.62],[26.05,21.56],[26.0,21.4],
  [25.02,21.23]
];

// recta de regresion: CubSem sF3 = 7,1287707 + 0,6668059 * CubSem plF2
const rectaX = [18, 28.5];
const rectaY = [19.13, 26.13];

const todos = puntosIzq.concat(puntosNucleo, puntosCentroBajo, puntosRelleno, puntosDer)
  .map(p => ({ x: p[0], y: p[1] }));

const esEntero = v => Math.abs(v - Math.round(v)) < 1e-6;

const marco = {
  id: 'marco',
  afterDraw(chart) {
    const { ctx, chartArea: a, scales } = chart;
    ctx.save();
    ctx.strokeStyle = '#000';
    ctx.lineWidth = 2;
    ctx.strokeRect(a.left, a.top, a.right - a.left, a.bottom - a.top);
    ctx.lineWidth = 1.5;
    ctx.beginPath();
    scales.x.ticks.forEach(t => {
      if (!esEntero(t.value)) {
        const px = scales.x.getPixelForValue(t.value);
        ctx.moveTo(px, a.bottom);
        ctx.lineTo(px, a.bottom + 6);
      }
    });
    scales.y.ticks.forEach(t => {
      if (!esEntero(t.value)) {
        const py = scales.y.getPixelForValue(t.value);
        ctx.moveTo(a.left, py);
        ctx.lineTo(a.left - 6, py);
      }
    });
    ctx.stroke();
    ctx.restore();
  }
};

const fuenteTicks = { family: 'Arial, "Liberation Sans", sans-serif', size: 21 };
const colorTick = c => (c.tick && esEntero(c.tick.value)) ? '#000' : 'rgba(0,0,0,0)';

new Chart(document.getElementById('grafico'), {
  type: 'scatter',
  data: {
    datasets: [
      {
        type: 'line',
        data: rectaX.map((x, i) => ({ x: x, y: rectaY[i] })),
        borderColor: '#ec2a3f',
        borderWidth: 2,
        pointRadius: 0,
        fill: false,
        order: 0
      },
      {
        data: todos,
        pointStyle: 'rect',
        pointRadius: 2.5,
        pointBorderWidth: 0,
        backgroundColor: '#000',
        borderColor: '#000',
        order: 1
      }
    ]
  },
  options: {
    responsive: false,
    animation: false,
    layout: { padding: { top: 57, right: 127, left: 0, bottom: 0 } },
    plugins: { legend: { display: false }, tooltip: { enabled: false } },
    scales: {
      x: {
        type: 'linear',
        min: 18,
        max: 28.5,
        afterFit: s => { s.height = 232; },
        ticks: {
          stepSize: 0.5,
          autoSkip: false,
          maxRotation: 0,
          padding: 5,
          color: '#000',
          font: fuenteTicks,
          callback: v => esEntero(v) ? String(Math.round(v)) : ''
        },
        grid: { drawOnChartArea: false, drawTicks: true, tickLength: 10, tickWidth: 1.5, tickColor: colorTick },
        border: { display: true, color: '#000', width: 2 }
      },
      y: {
        type: 'linear',
        min: 18,
        max: 27,
        afterFit: s => { s.width = 227; },
        ticks: {
          stepSize: 0.5,
          autoSkip: false,
          padding: 8,
          color: '#000',
          font: fuenteTicks,
          callback: v => esEntero(v) ? String(Math.round(v)) : ''
        },
        grid: { drawOnChartArea: false, drawTicks: true, tickLength: 10, tickWidth: 1.5, tickColor: colorTick },
        border: { display: true, color: '#000', width: 2 }
      }
    }
  },
  plugins: [marco]
});
</script>
</body>
</html>
